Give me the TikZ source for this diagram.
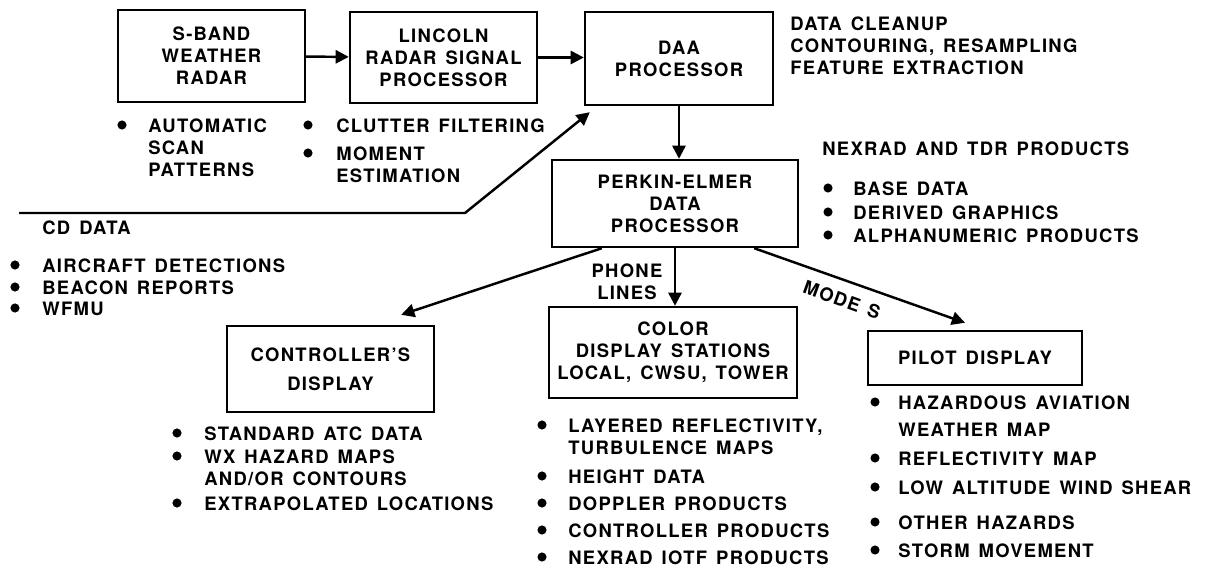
\documentclass[tikz,border=0pt]{standalone}
\usepackage{fontspec}
\setmainfont{TeX Gyre Heros}[LetterSpace=7,WordSpace=1.4]
\usetikzlibrary{arrows.meta,calc,positioning}

\begin{document}
\begin{tikzpicture}[x=0.02cm,y=-0.02cm,
  font=\fontsize{10.5}{12.5}\selectfont\bfseries,
  >={Triangle[length=7.5pt,width=7.5pt]},
  box/.style={draw,line width=1.4pt,align=center,inner sep=2pt},
  note/.style={anchor=north west,align=left,inner sep=0pt,yshift=3.8pt},
  wire/.style={line width=1.4pt}]
  \useasboundingbox (0,0) rectangle (1213,570);

  \node[box,minimum width=3.74cm,minimum height=1.84cm] (sband) at (211.5,56) {S-BAND\\WEATHER\\RADAR};
  \node[box,minimum width=3.74cm,minimum height=1.82cm] (lincoln) at (443.5,57.5) {LINCOLN\\RADAR SIGNAL\\PROCESSOR};
  \node[box,minimum width=3.76cm,minimum height=1.86cm] (daa) at (679,58.5) {DAA\\PROCESSOR};
  \node[box,minimum width=4.92cm,minimum height=1.74cm] (perkin) at (675,203.5) {PERKIN-ELMER\\DATA\\PROCESSOR};
  \node[box,minimum width=4.14cm,minimum height=1.72cm] (ctrl) at (330.5,369) {CONTROLLER'S\\[4pt]DISPLAY};
  \node[box,minimum width=4.96cm,minimum height=1.82cm] (color) at (673,352.5) {COLOR\\DISPLAY STATIONS\\LOCAL, CWSU, TOWER};
  \node[box,minimum width=4.28cm,minimum height=1.08cm] (pilot) at (975,358) {PILOT DISPLAY};

  \draw[wire,->] (sband) -- (lincoln);
  \draw[wire,->] (lincoln.east) -- (lincoln.east -| daa.west);
  \draw[wire,->] (daa.south) -- (daa.south |- perkin.north);
  \draw[wire,->] (perkin.south) -- (perkin.south |- color.north);
  \draw[wire,->] ($(perkin.south west)+(51,0)$) -- ($(ctrl.north east)+(-34,-10)$);
  \draw[wire,->] ($(perkin.south east)+(-45,0)$) -- ($(pilot.north)+(-10,-7)$);
  \coordinate (cdin) at (19,213);
  \coordinate (cdbend) at (465,213);
  \draw[wire,->] (cdin) -- (cdbend) -- ($(daa.south west)+(6,6)$);

  \node[align=center] (phone) at (627,281.5) {PHONE\\LINES};
  \node[rotate=-20] (modes) at (842,300) {MODE S};

  \node[note] (cleanup) at (790,23) {DATA CLEANUP\\CONTOURING, RESAMPLING\\FEATURE EXTRACTION};
  \node[note] (nexrad) at (822,148) {NEXRAD AND TDR PRODUCTS};
  \fill (828,188) circle (2.6pt); \node[note] (base) at (853,188) {BASE DATA};
  \fill (828,212) circle (2.6pt); \node[note] (derived) at (853,212) {DERIVED GRAPHICS};
  \fill (828,235) circle (2.6pt); \node[note] (alpha) at (853,235) {ALPHANUMERIC PRODUCTS};

  \node[note] (cddata) at (42,227) {CD DATA};
  \fill (15,265) circle (2.6pt); \node[note] (aircraft) at (42,265) {AIRCRAFT DETECTIONS};
  \fill (15,287) circle (2.6pt); \node[note] (beacon) at (42,287) {BEACON REPORTS};
  \fill (15,308) circle (2.6pt); \node[note] (wfmu) at (42,308) {WFMU};

  \fill (122,125) circle (2.6pt); \node[note] (scan) at (148,125) {AUTOMATIC\\SCAN\\PATTERNS};
  \fill (308,125) circle (2.6pt); \node[note] (clutter) at (336,125) {CLUTTER FILTERING};
  \fill (308,153) circle (2.6pt); \node[note] (moment) at (336,153) {MOMENT\\ESTIMATION};

  \fill (177,433) circle (2.6pt); \node[note] (atc) at (204,433) {STANDARD ATC DATA};
  \fill (177,456) circle (2.6pt); \node[note] (wxmaps) at (204,456) {WX HAZARD MAPS\\AND/OR CONTOURS};
  \fill (177,503) circle (2.6pt); \node[note] (extrap) at (204,503) {EXTRAPOLATED LOCATIONS};

  \fill (542,425) circle (2.6pt); \node[note] (layered) at (568,425) {LAYERED REFLECTIVITY,\\TURBULENCE MAPS};
  \fill (542,476) circle (2.6pt); \node[note] (height) at (568,476) {HEIGHT DATA};
  \fill (542,503) circle (2.6pt); \node[note] (doppler) at (568,503) {DOPPLER PRODUCTS};
  \fill (542,530) circle (2.6pt); \node[note] (ctrlprod) at (568,530) {CONTROLLER PRODUCTS};
  \fill (542,557) circle (2.6pt); \node[note] (iotf) at (568,557) {NEXRAD IOTF PRODUCTS};

  \fill (875,402) circle (2.6pt); \node[note] (hazard) at (898,402) {HAZARDOUS AVIATION\\[3pt]WEATHER MAP};
  \fill (875,458) circle (2.6pt); \node[note] (refl) at (898,458) {REFLECTIVITY MAP};
  \fill (875,487) circle (2.6pt); \node[note] (shear) at (898,487) {LOW ALTITUDE WIND SHEAR};
  \fill (875,522) circle (2.6pt); \node[note] (other) at (898,522) {OTHER HAZARDS};
  \fill (875,550) circle (2.6pt); \node[note] (storm) at (898,550) {STORM MOVEMENT};
\end{tikzpicture}
\end{document}
